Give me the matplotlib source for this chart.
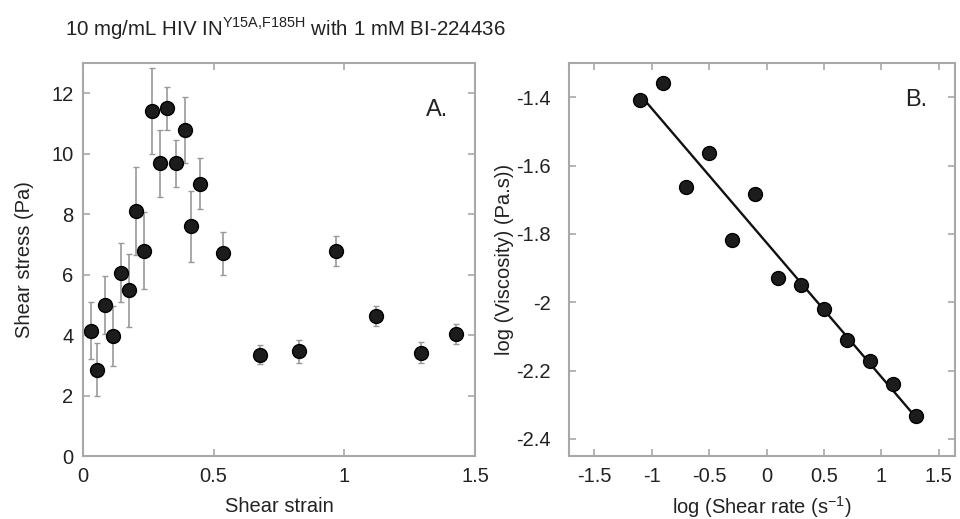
import numpy as np
import matplotlib.pyplot as plt

plt.rcParams['font.family'] = ['Liberation Sans', 'DejaVu Sans']

# panel A: shear stress vs shear strain
strain = [0.029, 0.055, 0.084, 0.115, 0.146, 0.176, 0.203, 0.234, 0.263, 0.293,
          0.322, 0.354, 0.391, 0.415, 0.447, 0.534, 0.677, 0.827, 0.970, 1.121,
          1.292, 1.426]
stress = [4.14, 2.86, 5.0, 3.97, 6.06, 5.48, 8.11, 6.79, 11.4, 9.68,
          11.5, 9.68, 10.78, 7.6, 9.01, 6.7, 3.35, 3.46, 6.78, 4.62,
          3.42, 4.03]
stress_err = [0.94, 0.88, 0.95, 1.0, 0.98, 1.2, 1.45, 1.28, 1.42, 1.1,
              0.7, 0.78, 1.08, 1.17, 0.85, 0.72, 0.32, 0.37, 0.51, 0.33,
              0.34, 0.32]

# panel B: log viscosity vs log shear rate
log_rate = [-1.1, -0.9, -0.7, -0.5, -0.3, -0.1, 0.1, 0.3, 0.5, 0.7, 0.9, 1.1, 1.3]
log_visc = [-1.408, -1.359, -1.662, -1.564, -1.818, -1.683, -1.928, -1.950,
            -2.021, -2.112, -2.172, -2.238, -2.334]

spine_col = '#a8a8a8'
dot_col = '#1c1c1c'
txt_col = '#222222'

fig = plt.figure(figsize=(9.6, 5.19), dpi=100)
ax1 = fig.add_axes([83/960, 63/519, 392/960, 393/519])
ax2 = fig.add_axes([569/960, 63/519, 386/960, 393/519])

def style(ax, ypad):
    for s in ax.spines.values():
        s.set_color(spine_col)
        s.set_linewidth(1.5)
    ax.tick_params(direction='in', length=5, width=1.2, color=spine_col,
                   top=True, right=True, labelsize=14.5, labelcolor=txt_col)
    ax.tick_params(axis='x', pad=8)
    ax.tick_params(axis='y', pad=ypad)

ax1.errorbar(strain, stress, yerr=stress_err, fmt='o', color=dot_col,
             markersize=10, markeredgecolor='#000000', ecolor='#999999',
             elinewidth=1.2, capsize=2, capthick=1)
ax1.set_xlim(0, 1.5)
ax1.set_ylim(0, 13)
ax1.set_xticks([0, 0.5, 1, 1.5])
ax1.set_xticklabels(['0', '0.5', '1', '1.5'])
ax1.set_yticks([0, 2, 4, 6, 8, 10, 12])
ax1.set_xlabel('Shear strain', fontsize=14.5, color=txt_col, labelpad=8)
ax1.set_ylabel('Shear stress (Pa)', fontsize=14.5, color=txt_col, labelpad=12)
ax1.text(0.931, 0.88, 'A.', transform=ax1.transAxes, fontsize=17,
         ha='right', va='center', color=txt_col)
style(ax1, 7)

fit = np.polyfit(log_rate, log_visc, 1)
xs = np.array([log_rate[0], log_rate[-1]])
ax2.plot(xs, np.polyval(fit, xs), color='#111111', linewidth=1.7, zorder=2)
ax2.plot(log_rate, log_visc, 'o', color=dot_col, markersize=10,
         markeredgecolor='#000000', zorder=3)
ax2.set_xlim(-1.72, 1.64)
ax2.set_ylim(-2.45, -1.3)
ax2.set_xticks([-1.5, -1, -0.5, 0, 0.5, 1, 1.5])
ax2.set_xticklabels(['-1.5', '-1', '-0.5', '0', '0.5', '1', '1.5'])
ax2.set_yticks([-2.4, -2.2, -2.0, -1.8, -1.6, -1.4])
ax2.set_yticklabels(['-2.4', '-2.2', '-2', '-1.8', '-1.6', '-1.4'])
ax2.set_xlabel(r'log (Shear rate (s$^{\mathregular{-1}}$)', fontsize=14.5,
               color=txt_col, labelpad=6)
ax2.set_ylabel('log (Viscosity) (Pa.s))', fontsize=14.5, color=txt_col, labelpad=2)
ax2.text(0.927, 0.906, 'B.', transform=ax2.transAxes, fontsize=17,
         ha='right', va='center', color=txt_col)
style(ax2, 13)

fig.text(65/960, 1 - 29/519,
         r'10 mg/mL HIV IN$^{\mathregular{Y15A{,}F185H}}$ with 1 mM BI-224436',
         fontsize=14.8, color=txt_col, va='center', ha='left')

fig.savefig('out.png', dpi=100)
